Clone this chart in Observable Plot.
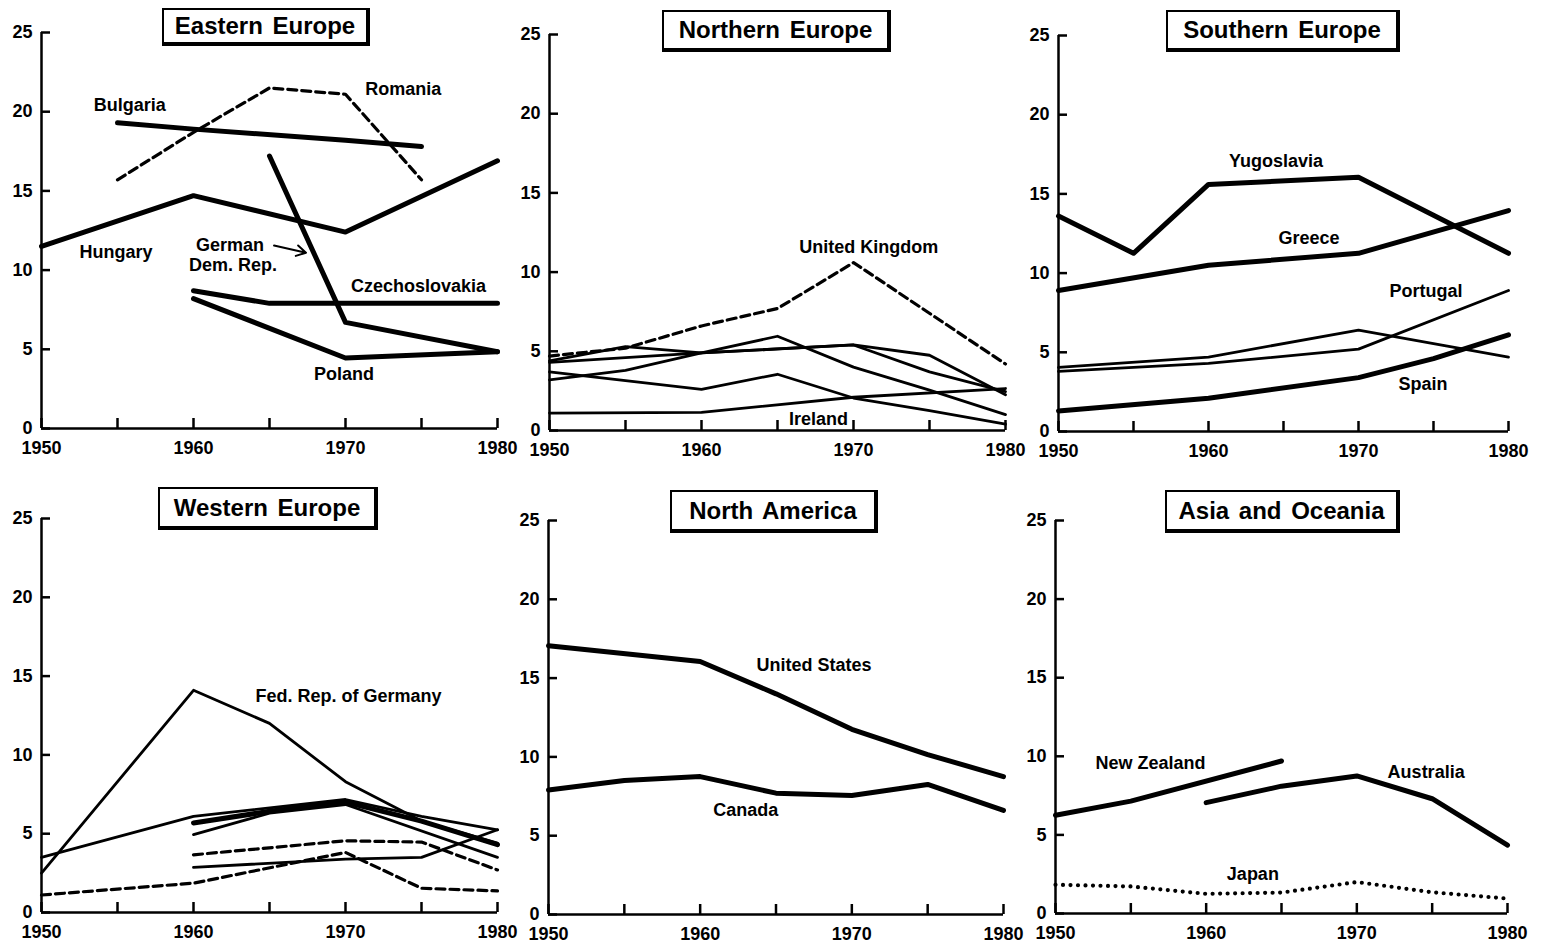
<!DOCTYPE html>
<html>
<head>
<meta charset="utf-8">
<script src="https://cdn.jsdelivr.net/npm/d3@7"></script>
<script src="https://cdn.jsdelivr.net/npm/@observablehq/plot@0.6"></script>
<style>
  html, body { margin: 0; padding: 0; background: #fff; }
  #page { position: relative; width: 1550px; height: 947px; overflow: hidden; background: #fff; }
  .panel { position: absolute; }
  .panel svg { overflow: visible; }
  .title {
    position: absolute; box-sizing: border-box; z-index: 5; background: #fff;
    border: 2px solid #000; border-right-width: 4px; border-bottom-width: 4px;
    font-family: "Liberation Sans", Arial, sans-serif; font-weight: bold; font-size: 24px;
    display: flex; align-items: center; justify-content: center; color: #000;
    word-spacing: 3px;
  }
</style>
</head>
<body>
<div id="page"></div>
<script>
// ---------- data ----------
const years = [1950, 1955, 1960, 1965, 1970, 1975, 1980];
const yTicks = [0, 5, 10, 15, 20, 25];
const xTicks = [1950, 1955, 1960, 1965, 1970, 1975, 1980];
const xLabels = [1950, 1960, 1970, 1980];
const regions = ["Eastern Europe", "Northern Europe", "Southern Europe", "Western Europe", "North America", "Asia and Oceania"];

// Eastern Europe
const bulgaria       = [null, 19.3, 18.9, null, 18.2, 17.8, null];
const romania        = [null, 15.7, 18.7, 21.5, 21.1, 15.7, null];
const hungary        = [11.5, null, 14.7, null, 12.4, null, 16.9];
const gdr            = [null, null, null, 17.2, 6.7, null, 4.85];
const czechoslovakia = [null, null, 8.7, 7.9, 7.9, null, 7.9];
const poland         = [null, null, 8.2, null, 4.45, null, 4.85];

// Northern Europe
const unitedKingdom = [4.7, 5.2, 6.6, 7.7, 10.6, null, 4.2];
const northern1     = [4.4, 5.3, 4.9, null, 5.4, 4.75, 2.25];
const northern2     = [4.3, null, 4.9, 5.15, 5.4, 3.7, 2.45];
const northern3     = [3.2, 3.8, 4.9, 5.95, 4.0, 2.55, 1.0];
const northern4     = [3.7, null, 2.6, 3.55, 2.05, 1.25, 0.4];
const ireland       = [1.1, null, 1.15, null, 2.1, null, 2.65];

// Southern Europe
const yugoslavia = [13.6, 11.25, 15.6, null, 16.05, null, 11.25];
const greece     = [8.9, null, 10.5, null, 11.25, null, 13.95];
const portugal   = [3.8, null, 4.3, null, 5.2, null, 8.9];
const southern1  = [4.05, null, 4.7, null, 6.4, null, 4.7];
const spain      = [1.3, null, 2.1, null, 3.4, 4.6, 6.1];

// Western Europe
const frg        = [2.5, null, 14.1, 12.0, 8.3, 5.8, 4.4];
const western1   = [3.5, null, 6.1, null, 7.17, 6.1, 5.25];
const western2   = [null, null, 5.68, 6.42, 7.0, 5.8, 4.3];
const western3   = [null, null, 4.94, 6.3, 6.85, null, 3.5];
const western4   = [null, null, 2.86, null, 3.39, 3.5, 5.25];
const western5   = [null, null, 3.66, null, 4.55, 4.47, 2.7];
const western6   = [1.11, null, 1.86, null, 3.81, 1.54, 1.37];

// North America
const unitedStates = [17.05, null, 16.05, 14.0, 11.75, 10.15, 8.75];
const canada       = [7.9, 8.5, 8.75, 7.7, 7.55, 8.25, 6.6];

// Asia and Oceania
const newZealand = [6.25, 7.15, null, 9.7, null, null, null];
const australia  = [null, null, 7.05, 8.1, 8.75, 7.3, 4.35];
const japan      = [1.83, 1.72, 1.25, 1.33, 2.0, 1.35, 0.95];

// series label annotations (text, year, value)
const eastLabels = [
  ["Bulgaria", 1955.8, 20.4], ["Romania", 1973.8, 21.4], ["Hungary", 1954.9, 11.1],
  ["German", 1962.4, 11.6], ["Dem. Rep.", 1962.6, 10.3], ["Czechoslovakia", 1974.8, 9.0], ["Poland", 1969.9, 3.4]
];
const northLabels = [["United Kingdom", 1971.0, 11.6], ["Ireland", 1967.7, 0.7]];
const southLabels = [["Yugoslavia", 1964.5, 17.05], ["Greece", 1966.7, 12.2], ["Portugal", 1974.5, 8.85], ["Spain", 1974.3, 2.97]];
const westLabels = [["Fed. Rep. of Germany", 1970.2, 13.75]];
const naLabels = [["United States", 1967.5, 15.8], ["Canada", 1963.0, 6.6]];
const asiaLabels = [["New Zealand", 1956.3, 9.55], ["Australia", 1974.6, 9.0], ["Japan", 1963.1, 2.5]];
const gdrArrow = [[1965.3, 11.55, 1967.4, 11.1]];

// ---------- styles ----------
const FONT = "'Liberation Sans', Arial, Helvetica, sans-serif";
const STY = {
  thick:  {strokeWidth: 5},
  thin:   {strokeWidth: 2.8},
  dashed: {strokeWidth: 3.2, strokeDasharray: "9,5"},
  dotted: {strokeWidth: 4.2, strokeDasharray: "0,7.5", strokeLinecap: "round"}
};

function rows(name, vals) {
  return years.map((y, i) => ({country: name, year: y, value: vals[i]})).filter(d => d.value != null);
}

const panels = [
  {title: regions[0], ax: 41, ax2: 497, y25: 32, y0: 428,
   series: [["Bulgaria", bulgaria, "thick"], ["Romania", romania, "dashed"], ["Hungary", hungary, "thick"],
            ["German Dem. Rep.", gdr, "thick"], ["Czechoslovakia", czechoslovakia, "thick"], ["Poland", poland, "thick"]],
   labels: eastLabels, arrows: gdrArrow, box: [162, 8, 208, 38]},
  {title: regions[1], ax: 549, ax2: 1005, y25: 34, y0: 430,
   series: [["United Kingdom", unitedKingdom, "dashed"], ["N1", northern1, "thin"], ["N2", northern2, "thin"],
            ["N3", northern3, "thin"], ["N4", northern4, "thin"], ["Ireland", ireland, "thin"]],
   labels: northLabels, arrows: [], box: [662, 10, 229, 42]},
  {title: regions[2], ax: 1058, ax2: 1508, y25: 35, y0: 431,
   series: [["Yugoslavia", yugoslavia, "thick"], ["Greece", greece, "thick"], ["Portugal", portugal, "thin"],
            ["S1", southern1, "thin"], ["Spain", spain, "thick"]],
   labels: southLabels, arrows: [], box: [1166, 10, 234, 42]},
  {title: regions[3], ax: 41, ax2: 497, y25: 518, y0: 912,
   series: [["Fed. Rep. of Germany", frg, "thin"], ["W1", western1, "thin"], ["W2", western2, "thick"],
            ["W3", western3, "thin"], ["W4", western4, "thin"], ["W5", western5, "dashed"], ["W6", western6, "dashed"]],
   labels: westLabels, arrows: [], box: [158, 487, 220, 43]},
  {title: regions[4], ax: 548, ax2: 1003, y25: 520, y0: 914,
   series: [["United States", unitedStates, "thick"], ["Canada", canada, "thick"]],
   labels: naLabels, arrows: [], box: [670, 490, 208, 43]},
  {title: regions[5], ax: 1055, ax2: 1507, y25: 520, y0: 913,
   series: [["New Zealand", newZealand, "thick"], ["Australia", australia, "thick"], ["Japan", japan, "dotted"]],
   labels: asiaLabels, arrows: [], box: [1165, 490, 235, 43]}
];

const page = document.getElementById("page");
const ML = 40, MR = 30, MT = 10, MB = 35;

for (const p of panels) {
  const lineMarks = p.series.map(([name, vals, st]) =>
    Plot.line(rows(name, vals), {x: "year", y: "value", z: "country", stroke: "#000",
      strokeLinejoin: "round", ...STY[st]}));
  const chart = Plot.plot({
    width: ML + (p.ax2 - p.ax) + MR,
    height: MT + (p.y0 - p.y25) + MB,
    marginLeft: ML, marginRight: MR, marginTop: MT, marginBottom: MB,
    x: {domain: [1950, 1980]},
    y: {domain: [0, 25]},
    style: {fontFamily: FONT, fontWeight: "bold", fontSize: "18px", color: "#000", background: "transparent", overflow: "visible"},
    marks: [
      Plot.ruleX([1950], {y1: 0, y2: 25, strokeWidth: 2.5, stroke: "#000"}),
      Plot.ruleY([0], {x1: 1950, x2: 1980, strokeWidth: 2.5, stroke: "#000"}),
      Plot.axisY({ticks: yTicks, tickSize: -9, tickPadding: 18, tickFormat: d => String(d), label: null,
                  strokeWidth: 2.5, fontSize: 18, fontWeight: "bold"}),
      Plot.axisX({ticks: xTicks, tickSize: -10, tickFormat: () => "", label: null, strokeWidth: 2.5}),
      Plot.axisX({ticks: xLabels, tickSize: 0, tickPadding: 13, tickFormat: d => String(d), label: null,
                  fontSize: 18, fontWeight: "bold"}),
      ...lineMarks,
      Plot.arrow(p.arrows, {x1: d => d[0], y1: d => d[1], x2: d => d[2], y2: d => d[3],
                 stroke: "#000", strokeWidth: 2, headLength: 8}),
      Plot.text(p.labels, {x: d => d[1], y: d => d[2], text: d => d[0], fontSize: 18, fontWeight: "bold",
                fill: "#000", textAnchor: "middle", lineAnchor: "middle", fontFamily: FONT})
    ]
  });
  const div = document.createElement("div");
  div.className = "panel";
  div.style.left = (p.ax - ML) + "px";
  div.style.top = (p.y25 - MT) + "px";
  div.appendChild(chart);
  page.appendChild(div);

  const t = document.createElement("div");
  t.className = "title";
  t.textContent = p.title;
  t.style.left = p.box[0] + "px";
  t.style.top = p.box[1] + "px";
  t.style.width = p.box[2] + "px";
  t.style.height = p.box[3] + "px";
  page.appendChild(t);
}
</script>
</body>
</html>
